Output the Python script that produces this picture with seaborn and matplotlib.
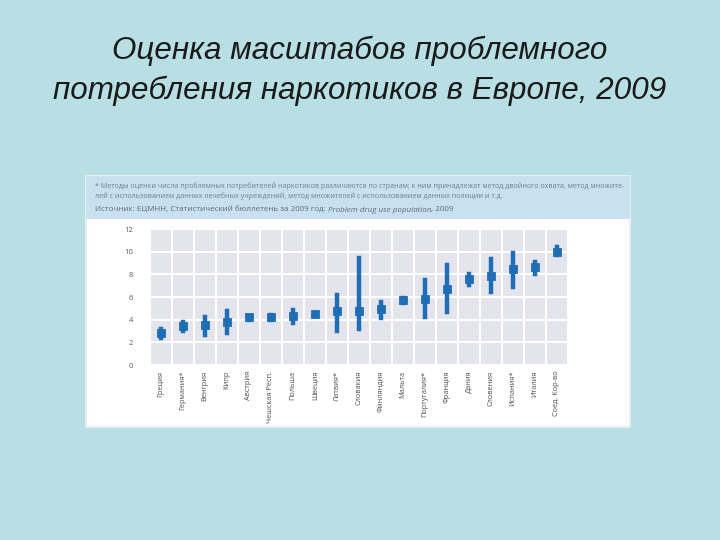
import matplotlib
matplotlib.use("Agg")
import matplotlib.pyplot as plt
from matplotlib.patches import Rectangle
import seaborn as sns
import pandas as pd

countries = ["Греция", "Германия*", "Венгрия", "Кипр", "Австрия", "Чешская Респ.",
             "Польша", "Швеция", "Латвия*", "Словакия", "Финляндия", "Мальта",
             "Португалия*", "Франция", "Дания", "Словения", "Испания*", "Италия",
             "Соед. Кор-во"]
central = [2.8, 3.4, 3.5, 3.8, 4.2, 4.2, 4.3, 4.5, 4.75, 4.75, 4.9, 5.7,
           5.8, 6.7, 7.6, 7.85, 8.5, 8.65, 10.0]
low = [2.4, 3.0, 2.65, 2.8, 4.0, 4.0, 3.7, 4.4, 3.0, 3.2, 4.15, 5.5,
       4.2, 4.7, 7.05, 6.45, 6.9, 8.05, 9.7]
high = [3.2, 3.8, 4.2, 4.8, 4.3, 4.4, 4.85, 4.6, 6.2, 9.4, 5.55, 5.9,
        7.5, 8.8, 8.0, 9.35, 9.9, 9.1, 10.4]
yticks = [0, 2, 4, 6, 8, 10, 12]

title = "Оценка масштабов проблемного\nпотребления наркотиков в Европе, 2009"
note1 = ("* Методы оценки числа проблемных потребителей наркотиков различаются по странам; к ним принадлежат метод двойного охвата, метод множите-")
note2 = ("лей с использованием данных лечебных учреждений, метод множителей с использованием данных полиции и т.д.")
source = "Источник: ЕЦМНН, Статистический бюллетень за 2009 год: "
source_it = "Problem drug use population"
source_end = ", 2009"

rows = []
for c, lo, ce, hi in zip(countries, low, central, high):
    for v in (lo, ce, hi):
        rows.append({"country": c, "value": v})
df = pd.DataFrame(rows)

BG = "#b8dfe3"
fig = plt.figure(figsize=(7.2, 5.4), dpi=100, facecolor=BG)

fig.text(0.5, 1 - 71/540, title, ha="center", va="center", fontsize=22.6,
         style="italic", family="Liberation Sans", color="#1a1a1a",
         linespacing=1.42)

# embedded chart box
fig.patches.append(Rectangle((86/720, 1-427/540), (630-86)/720, (427-176)/540,
                             transform=fig.transFigure, facecolor="white",
                             edgecolor="#e6eef0", linewidth=1.5, zorder=0))
fig.patches.append(Rectangle((86/720, 1-219/540), (630-86)/720, (219-176)/540,
                             transform=fig.transFigure, facecolor="#c8e0ef",
                             edgecolor="none", zorder=0.5))
fig.text(95/720, 1-186/540, note1, fontsize=5.1, color="#6f7f8f",
         family="Open Sans", va="center")
fig.text(95/720, 1-196/540, note2, fontsize=5.1, color="#6f7f8f",
         family="Open Sans", va="center")
t = fig.text(95/720, 1-210/540, source, fontsize=5.8, color="#5f6a75",
             family="Open Sans", va="center")
fig.canvas.draw()
r = fig.canvas.get_renderer()
bb = t.get_window_extent(r)
t2 = fig.text(bb.x1/720, 1-210/540, source_it, fontsize=5.8, color="#5f6a75",
              family="Open Sans", style="italic", va="center")
bb2 = t2.get_window_extent(r)
fig.text(bb2.x1/720, 1-210/540, source_end, fontsize=5.8, color="#5f6a75",
         family="Open Sans", va="center")

ax = fig.add_axes([150/720, 1-365/540, 418/720, 136/540])
ax.set_zorder(2)
ax.set_facecolor("#e4e4ec")
sns.pointplot(data=df, x="country", y="value", order=countries,
              estimator="median", errorbar=("pi", 100),
              markers="s", linestyles="none", color="#1f6db4",
              markersize=5, err_kws={"linewidth": 3.2}, ax=ax)
ax.set_xlim(-0.5, len(countries) - 0.5)
ax.set_ylim(0, 12)
ax.set_yticks(yticks)
ax.set_yticklabels([str(v) for v in yticks], fontsize=5.5, color="#5a5a5a",
                   family="Open Sans")
ax.set_xticks(range(len(countries)))
ax.set_xticklabels(countries, rotation=90, fontsize=5.3, color="#505050",
                   family="Open Sans", va="top", ha="center")
ax.set_xticks([i + 0.5 for i in range(-1, len(countries))], minor=True)
ax.grid(False)
ax.grid(True, axis="y", which="major", color="white", linewidth=1.5)
ax.grid(True, axis="x", which="minor", color="white", linewidth=1.5)
ax.set_axisbelow(True)
ax.tick_params(axis="both", which="both", length=0)
ax.tick_params(axis="y", pad=12)
ax.tick_params(axis="x", pad=4)
for s in ax.spines.values():
    s.set_visible(False)
ax.set_xlabel("")
ax.set_ylabel("")

fig.savefig("out.png", dpi=100, facecolor=BG)
